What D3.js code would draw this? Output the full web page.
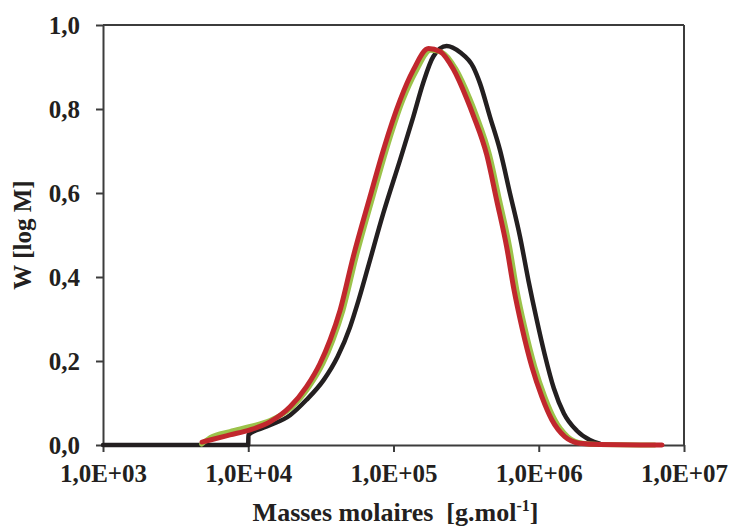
<!DOCTYPE html>
<html>
<head>
<meta charset="utf-8">
<script src="https://cdn.jsdelivr.net/npm/d3@7"></script>
<style>
  html, body { margin: 0; padding: 0; background: #ffffff; }
  svg { display: block; }
  text { font-family: "Liberation Serif", "Times New Roman", serif; font-weight: bold; fill: #231f20; }
</style>
</head>
<body>
<svg id="chart" width="733" height="528"></svg>
<script>
// ---- data (molar mass M in g/mol, W = w(log M)) ----
const xTicks = [1e3, 1e4, 1e5, 1e6, 1e7];
const yTicks = [0, 0.2, 0.4, 0.6, 0.8, 1.0];

const blackMass = [1e3, 1e4, 1.002e4, 1.34e4, 1.94e4, 2.51e4, 3.31e4, 4.12e4, 5.01e4, 5.75e4, 6.76e4, 8.51e4, 1.11e5, 1.37e5, 1.60e5, 1.88e5, 2.32e5, 2.87e5, 3.54e5, 3.94e5, 4.61e5, 5.41e5, 6.34e5, 7.43e5, 8.51e5, 9.66e5, 1.10e6, 1.27e6, 1.49e6, 1.83e6, 2.25e6, 2.63e6];
const blackW    = [0, 0, 0.024, 0.044, 0.071, 0.107, 0.155, 0.21, 0.28, 0.345, 0.43, 0.552, 0.679, 0.782, 0.862, 0.925, 0.95, 0.935, 0.90, 0.861, 0.782, 0.702, 0.599, 0.496, 0.39, 0.30, 0.215, 0.135, 0.075, 0.034, 0.012, 0.003];

const greenMass = [4.78e3, 5.50e3, 7.48e3, 1.03e4, 1.41e4, 2.00e4, 2.63e4, 3.27e4, 3.83e4, 4.49e4, 5.53e4, 7.21e4, 8.91e4, 1.16e5, 1.43e5, 1.80e5, 2.16e5, 2.69e5, 3.35e5, 3.72e5, 4.59e5, 5.37e5, 6.30e5, 7.06e5, 8.02e5, 9.40e5, 1.10e6, 1.29e6, 1.58e6, 2.00e6, 2.63e6, 6.31e6];
const greenW    = [0.002, 0.018, 0.032, 0.044, 0.058, 0.09, 0.139, 0.194, 0.25, 0.321, 0.448, 0.591, 0.702, 0.821, 0.89, 0.94, 0.935, 0.895, 0.825, 0.785, 0.69, 0.583, 0.472, 0.37, 0.28, 0.186, 0.115, 0.06, 0.02, 0.004, 0.001, 0];

const redMass = [4.81e3, 5.46e3, 7.48e3, 1.03e4, 1.41e4, 1.94e4, 2.52e4, 3.12e4, 3.66e4, 4.29e4, 5.28e4, 6.89e4, 8.51e4, 1.11e5, 1.37e5, 1.74e5, 2.09e5, 2.58e5, 3.19e5, 3.54e5, 4.39e5, 5.13e5, 6.01e5, 6.75e5, 7.66e5, 8.97e5, 1.05e6, 1.23e6, 1.51e6, 1.92e6, 2.64e6, 7.06e6];
const redW    = [0.007, 0.012, 0.024, 0.036, 0.055, 0.091, 0.139, 0.194, 0.25, 0.321, 0.448, 0.591, 0.702, 0.821, 0.893, 0.944, 0.937, 0.895, 0.825, 0.785, 0.69, 0.583, 0.472, 0.37, 0.28, 0.186, 0.115, 0.06, 0.02, 0.004, 0.001, 0];

const seriesNames = ["black", "green", "red"];
const seriesColors = ["#231f20", "#9cc24a", "#c1272d"];

// ---- layout ----
const svg = d3.select("#chart");
const mLeft = 103, mRight = 684, mTop = 25, mBottom = 445;

const x = d3.scaleLog().domain([1e3, 1e7]).range([mLeft, mRight]);
const y = d3.scaleLinear().domain([0, 1]).range([mBottom, mTop]);

const axisColor = "#3c3c3c";

// frame (top & right)
svg.append("line").attr("x1", mLeft).attr("x2", mRight).attr("y1", mTop).attr("y2", mTop)
  .attr("stroke", axisColor).attr("stroke-width", 2);
svg.append("line").attr("x1", mRight).attr("x2", mRight).attr("y1", mTop).attr("y2", mBottom)
  .attr("stroke", axisColor).attr("stroke-width", 2);

// axes
const fmtY = d => d3.format(".1f")(d).replace(".", ",");
const fmtX = d => "1,0E+0" + Math.round(Math.log10(d));

const gx = svg.append("g").attr("transform", `translate(0,${mBottom})`)
  .call(d3.axisBottom(x).tickValues(xTicks).tickFormat(fmtX).tickSize(7).tickPadding(12).tickSizeOuter(0));
const gy = svg.append("g").attr("transform", `translate(${mLeft},0)`)
  .call(d3.axisLeft(y).tickValues(yTicks).tickFormat(fmtY).tickSize(7).tickPadding(16).tickSizeOuter(0));

[gx, gy].forEach(g => {
  g.select(".domain").attr("stroke", axisColor).attr("stroke-width", 2);
  g.selectAll(".tick line").attr("stroke", axisColor).attr("stroke-width", 2);
  g.selectAll(".tick text").attr("font-size", 25).attr("font-family", "Liberation Serif, serif")
    .attr("font-weight", "bold").attr("fill", "#231f20");
});

// curves
const line = d3.line().x(d => x(d[0])).y(d => y(d[1])).curve(d3.curveMonotoneX);
const series = [
  d3.zip(blackMass, blackW),
  d3.zip(greenMass, greenW),
  d3.zip(redMass, redW)
];
const widths = [4.5, 5, 5];
series.forEach((s, i) => {
  svg.append("path").datum(s).attr("d", line)
    .attr("fill", "none").attr("stroke", seriesColors[i]).attr("stroke-width", widths[i])
    .attr("stroke-linejoin", "round").attr("stroke-linecap", "round")
    .attr("class", "series-" + seriesNames[i]);
});

// axis titles
const xt = svg.append("text").attr("x", (mLeft + mRight) / 2 + 2).attr("y", 521)
  .attr("text-anchor", "middle").attr("font-size", 26).style("white-space", "pre");
xt.append("tspan").text("Masses molaires  [g.mol");
xt.append("tspan").attr("font-size", 16).attr("dy", -10).text("-1");
xt.append("tspan").attr("dy", 10).text("]");

svg.append("text").attr("transform", `translate(31,${(mTop + mBottom) / 2}) rotate(-90)`)
  .attr("text-anchor", "middle").attr("font-size", 25).text("W [log M]");
</script>
</body>
</html>
